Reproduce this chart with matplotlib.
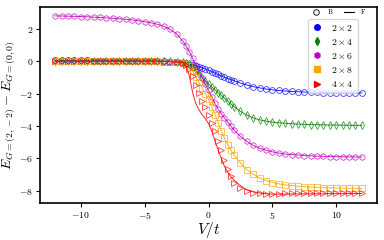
import matplotlib
matplotlib.use("Agg")
import matplotlib.pyplot as plt
from matplotlib.lines import Line2D

plt.rcParams['mathtext.fontset'] = 'cm'
plt.rcParams['font.family'] = ['DejaVu Serif']

V = [-12, -11.5, -11, -10.5, -10, -9.5, -9, -8.5, -8, -7.5, -7, -6.5, -6, -5.5, -5, -4.5, -4, -3.5, -3, -2.5,
     -2, -1.75, -1.5, -1.25, -1, -0.75, -0.5, -0.25, 0, 0.25, 0.5, 0.75, 1, 1.25, 1.5, 1.75,
     2, 2.5, 3, 3.5, 4, 4.5, 5, 5.5, 6, 6.5, 7, 7.5, 8, 8.5, 9, 9.5, 10, 10.5, 11, 11.5, 12]

b_2x2 = [0.06, 0.06, 0.06, 0.06, 0.06, 0.06, 0.05, 0.05, 0.05, 0.05, 0.05, 0.04, 0.04, 0.04, 0.03, 0.03, 0.02, 0.01, -0.01, -0.04,
         -0.09, -0.12, -0.16, -0.21, -0.27, -0.33, -0.40, -0.47, -0.55, -0.63, -0.72, -0.81, -0.90, -0.98, -1.06, -1.13,
         -1.20, -1.34, -1.46, -1.56, -1.64, -1.71, -1.76, -1.80, -1.83, -1.86, -1.88, -1.90, -1.91, -1.92, -1.93, -1.94, -1.94, -1.95, -1.95, -1.95, -1.95]
b_2x4 = [0.02, 0.02, 0.02, 0.02, 0.02, 0.02, 0.02, 0.02, 0.02, 0.02, 0.02, 0.02, 0.02, 0.02, 0.02, 0.02, 0.01, 0.01, 0.0, -0.02,
         -0.06, -0.1, -0.18, -0.33, -0.55, -0.78, -1.0, -1.2, -1.4, -1.58, -1.75, -1.93, -2.1, -2.28, -2.45, -2.63,
         -2.8, -3.1, -3.32, -3.5, -3.62, -3.7, -3.76, -3.8, -3.83, -3.86, -3.88, -3.9, -3.91, -3.92, -3.93, -3.94, -3.94, -3.95, -3.95, -3.96, -3.96]
b_2x6 = [2.82, 2.81, 2.80, 2.79, 2.78, 2.76, 2.74, 2.72, 2.70, 2.67, 2.64, 2.61, 2.57, 2.52, 2.46, 2.39, 2.30, 2.17, 1.98, 1.70,
         1.25, 0.95, 0.6, 0.2, -0.2, -0.6, -1.0, -1.4, -1.8, -2.2, -2.6, -2.95, -3.25, -3.5, -3.75, -4.0,
         -4.25, -4.65, -4.95, -5.2, -5.38, -5.5, -5.6, -5.68, -5.74, -5.77, -5.8, -5.83, -5.85, -5.87, -5.88, -5.89, -5.9, -5.91, -5.91, -5.92, -5.92]
b_2x8 = [0.0, 0.0, 0.0, 0.0, 0.0, 0.0, 0.0, 0.0, 0.0, 0.0, 0.0, 0.0, 0.0, 0.0, 0.0, 0.0, 0.0, -0.01, -0.02, -0.04,
         -0.08, -0.15, -0.3, -0.6, -0.95, -1.3, -1.65, -2.0, -2.35, -2.8, -3.3, -3.8, -4.3, -4.75, -5.15, -5.5,
         -5.8, -6.3, -6.7, -7.0, -7.22, -7.38, -7.5, -7.58, -7.65, -7.69, -7.73, -7.76, -7.78, -7.8, -7.82, -7.83, -7.84, -7.85, -7.86, -7.86, -7.87]
b_4x4 = [0.0, 0.0, 0.0, 0.0, 0.0, 0.0, 0.0, 0.0, 0.0, 0.0, 0.0, 0.0, 0.0, 0.0, 0.0, 0.0, 0.0, -0.01, -0.02, -0.05,
         -0.1, -0.2, -0.45, -0.9, -1.45, -1.95, -2.45, -2.85, -3.3, -3.8, -4.3, -4.9, -5.5, -6.1, -6.65, -7.1,
         -7.5, -7.85, -8.05, -8.15, -8.18, -8.2, -8.2, -8.19, -8.18, -8.17, -8.17, -8.16, -8.16, -8.15, -8.15, -8.14, -8.14, -8.13, -8.13, -8.13, -8.12]

f_2x2 = b_2x2
f_2x4 = b_2x4
f_2x6 = b_2x6
f_2x8 = b_2x8
f_4x4 = [0.0, 0.0, 0.0, 0.0, 0.0, 0.0, 0.0, 0.0, 0.0, 0.0, 0.0, 0.0, 0.0, 0.0, 0.0, 0.0, 0.0, -0.01, -0.02, -0.04,
         -0.08, -0.3, -0.9, -1.9, -2.6, -3.0, -3.3, -3.55, -3.85, -4.3, -4.9, -5.5, -6.0, -6.5, -6.85, -7.15,
         -7.35, -7.7, -7.95, -8.07, -8.15, -8.2, -8.22, -8.22, -8.22, -8.21, -8.21, -8.2, -8.2, -8.2, -8.2, -8.19, -8.19, -8.19, -8.18, -8.18, -8.18]

labels = [r'$2\times2$', r'$2\times4$', r'$2\times6$', r'$2\times8$', r'$4\times4$']
colors = ['blue', 'green', 'm', 'orange', 'red']
markers = ['o', 'd', 'h', 's', '>']
B = [b_2x2, b_2x4, b_2x6, b_2x8, b_4x4]
F = [f_2x2, f_2x4, f_2x6, f_2x8, f_4x4]

fig = plt.figure(figsize=(3.84, 2.4), dpi=100)
ax = fig.add_axes([0.104, 0.154, 0.878, 0.817])

for bser, fser, c, m in zip(B, F, colors, markers):
    ax.plot(V, fser, '-', color=c, lw=0.7, alpha=0.85)
    ax.plot(V, bser, linestyle='none', marker=m, markersize=4.2, markerfacecolor='none',
            markeredgecolor=c, markeredgewidth=0.6, alpha=0.75)

for s in ax.spines.values():
    s.set_linewidth(1.2)
ax.tick_params(labelsize=7, width=0.8, length=3, pad=2)
ax.set_xticks([-10, -5, 0, 5, 10])
ax.set_xticklabels([r'$-10$', r'$-5$', r'$0$', r'$5$', r'$10$'])
ax.set_yticks([2, 0, -2, -4, -6, -8])
ax.set_yticklabels([r'$2$', r'$0$', r'$-2$', r'$-4$', r'$-6$', r'$-8$'])
ax.set_xlabel(r'$V/t$', fontsize=11, labelpad=0)
ax.set_ylabel(r'$E_{G=(2,-2)}-E_{G=(0,0)}$', fontsize=10, labelpad=1)
ax.xaxis.set_label_coords(0.5, -0.085)
ax.yaxis.set_label_coords(-0.068, 0.5)

handles = [Line2D([], [], linestyle='none', marker=m, color=c, markersize=4) for c, m in zip(colors, markers)]
leg1 = ax.legend(handles, labels, loc='upper right', bbox_to_anchor=(0.957, 0.965), fontsize=7,
                 handlelength=1.0, labelspacing=0.42, borderpad=0.4, handletextpad=1.0)
ax.add_artist(leg1)
h_b = Line2D([], [], linestyle='none', marker='o', markerfacecolor='none', markeredgecolor='black',
             markeredgewidth=0.6, markersize=4)
h_f = Line2D([], [], color='black', lw=0.8)
leg2 = ax.legend([h_b, h_f], [r'$\mathrm{B}$', r'$\mathrm{F}$'], loc='upper right', bbox_to_anchor=(0.985, 1.03),
                 ncol=2, fontsize=5, frameon=False, handlelength=1.5, columnspacing=1.5, handletextpad=0.8)

fig.savefig('out.png', dpi=100)
